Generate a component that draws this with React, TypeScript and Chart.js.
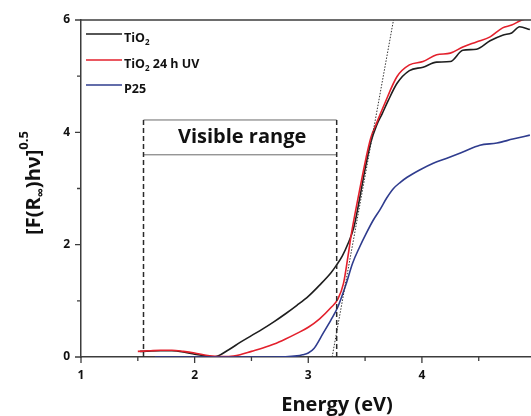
import { useEffect, useRef } from 'react';
import { Chart, registerables } from 'chart.js';

Chart.register(...registerables);

// ---- data ----
const tio2X = [1.52, 1.7, 1.8, 1.9, 2.0, 2.1, 2.17, 2.3, 2.4, 2.5, 2.6, 2.7, 2.8, 2.9, 3.0, 3.1, 3.2, 3.25, 3.3, 3.35, 3.4, 3.45, 3.5, 3.55, 3.6, 3.65, 3.7, 3.78, 3.89, 4.01, 4.13, 4.25, 4.36, 4.48, 4.6, 4.71, 4.79, 4.86, 4.95];
const tio2Y = [0.1, 0.11, 0.11, 0.09, 0.05, 0.02, 0.0, 0.13, 0.26, 0.38, 0.5, 0.63, 0.77, 0.92, 1.08, 1.28, 1.5, 1.64, 1.8, 2.02, 2.3, 2.8, 3.35, 3.82, 4.12, 4.33, 4.55, 4.87, 5.1, 5.16, 5.25, 5.26, 5.46, 5.48, 5.63, 5.73, 5.77, 5.88, 5.83];

const tio2UvX = [1.5, 1.6, 1.7, 1.8, 1.9, 2.0, 2.1, 2.2, 2.3, 2.4, 2.5, 2.6, 2.7, 2.8, 2.9, 3.0, 3.1, 3.2, 3.26, 3.31, 3.35, 3.38, 3.44, 3.51, 3.55, 3.6, 3.67, 3.78, 3.89, 4.01, 4.13, 4.25, 4.36, 4.48, 4.6, 4.71, 4.79, 4.88, 4.96];
const tio2UvY = [0.1, 0.11, 0.12, 0.12, 0.1, 0.07, 0.03, 0.01, 0.01, 0.04, 0.1, 0.16, 0.23, 0.32, 0.42, 0.53, 0.68, 0.88, 1.03, 1.31, 1.8, 2.2, 2.85, 3.56, 3.9, 4.16, 4.5, 4.99, 5.2, 5.26, 5.38, 5.41, 5.52, 5.61, 5.7, 5.86, 5.91, 6.0, 6.04];

const p25X = [1.65, 2.0, 2.5, 2.8, 2.9, 2.95, 3.0, 3.05, 3.13, 3.2, 3.26, 3.33, 3.39, 3.45, 3.51, 3.57, 3.63, 3.69, 3.75, 3.81, 3.87, 3.98, 4.1, 4.22, 4.36, 4.51, 4.66, 4.8, 4.95];
const p25Y = [0, 0, 0, 0.005, 0.02, 0.04, 0.07, 0.15, 0.42, 0.66, 0.89, 1.28, 1.67, 1.95, 2.2, 2.43, 2.62, 2.83, 3.0, 3.11, 3.2, 3.33, 3.45, 3.54, 3.65, 3.77, 3.81, 3.88, 3.95];

const tangentX = [3.21, 3.75];
const tangentY = [0, 6];

const xTicks = [1, 2, 3, 4];
const xMinorTicks = [1.5, 2.5, 3.5, 4.5];
const yTicks = [0, 2, 4, 6];
const yMinorTicks = [1, 3, 5];

const visibleRangeX = [1.55, 3.25];
const visibleBoxY = [3.6, 4.22];
const visibleLabel = 'Visible range';

const seriesNames = ['TiO', 'TiO', 'P25'];
const seriesSubs = ['2', '2', ''];
const seriesSuffix = ['', ' 24 h UV', ''];
const seriesColors = ['#1e1e1e', '#e3202c', '#2f3c8e'];

const xTitle = 'Energy (eV)';

const FONT = '"Open Sans", "DejaVu Sans", sans-serif';
const AXIS = '#3c3c3c';

const pts = (xs: number[], ys: number[]) => xs.map((x, i) => ({ x, y: ys[i] }));

const decorPlugin = {
  id: 'decor',
  afterDatasetsDraw(chart: any) {
    const { ctx, chartArea, scales } = chart;
    const xs = scales.x;
    const ys = scales.y;
    ctx.save();

    // visible range box
    const xl = xs.getPixelForValue(visibleRangeX[0]);
    const xr = xs.getPixelForValue(visibleRangeX[1]);
    const yTop = ys.getPixelForValue(visibleBoxY[1]);
    const yMid = ys.getPixelForValue(visibleBoxY[0]);
    const y0 = ys.getPixelForValue(0);
    ctx.strokeStyle = '#6a6a6a';
    ctx.lineWidth = 1;
    ctx.beginPath();
    ctx.moveTo(xl, yTop);
    ctx.lineTo(xr, yTop);
    ctx.moveTo(xl, yMid);
    ctx.lineTo(xr, yMid);
    ctx.stroke();
    ctx.strokeStyle = '#2a2a2a';
    ctx.lineWidth = 1.5;
    ctx.setLineDash([5, 3]);
    ctx.beginPath();
    ctx.moveTo(xl, yTop);
    ctx.lineTo(xl, y0);
    ctx.moveTo(xr, yTop);
    ctx.lineTo(xr, y0);
    ctx.stroke();
    ctx.setLineDash([]);
    ctx.fillStyle = '#111';
    ctx.font = `bold 20px ${FONT}`;
    ctx.textAlign = 'center';
    ctx.textBaseline = 'middle';
    ctx.fillText(visibleLabel, (xl + xr) / 2 + 2, (yTop + yMid) / 2);

    // legend
    const lx = chartArea.left + 5;
    const ly = [chartArea.top + 14, chartArea.top + 40, chartArea.top + 65];
    for (let i = 0; i < seriesNames.length; i++) {
      ctx.strokeStyle = seriesColors[i];
      ctx.lineWidth = 1.5;
      ctx.beginPath();
      ctx.moveTo(lx, ly[i]);
      ctx.lineTo(lx + 36, ly[i]);
      ctx.stroke();
      ctx.fillStyle = '#111';
      ctx.textAlign = 'left';
      ctx.textBaseline = 'alphabetic';
      ctx.font = `bold 12.5px ${FONT}`;
      let tx = lx + 38;
      const by = ly[i] + 7.5;
      ctx.fillText(seriesNames[i], tx, by);
      tx += ctx.measureText(seriesNames[i]).width;
      if (seriesSubs[i]) {
        ctx.font = `bold 8px ${FONT}`;
        ctx.fillText(seriesSubs[i], tx, by + 3.5);
        tx += ctx.measureText(seriesSubs[i]).width;
        ctx.font = `bold 12.5px ${FONT}`;
      }
      if (seriesSuffix[i]) ctx.fillText(seriesSuffix[i], tx, by);
    }
    ctx.restore();
  },
  afterDraw(chart: any) {
    const { ctx, chartArea, scales } = chart;
    const xs = scales.x;
    const ys = scales.y;
    ctx.save();
    ctx.strokeStyle = AXIS;
    ctx.lineWidth = 1.5;
    // top frame line
    ctx.beginPath();
    ctx.moveTo(chartArea.left, chartArea.top);
    ctx.lineTo(chartArea.right, chartArea.top);
    ctx.stroke();
    // ticks
    ctx.lineWidth = 1.3;
    ctx.beginPath();
    for (const v of xTicks) {
      const p = xs.getPixelForValue(v);
      ctx.moveTo(p, chartArea.bottom);
      ctx.lineTo(p, chartArea.bottom + 6);
    }
    for (const v of xMinorTicks) {
      const p = xs.getPixelForValue(v);
      ctx.moveTo(p, chartArea.bottom);
      ctx.lineTo(p, chartArea.bottom + 4);
    }
    for (const v of yTicks) {
      const p = ys.getPixelForValue(v);
      ctx.moveTo(chartArea.left, p);
      ctx.lineTo(chartArea.left - 6, p);
    }
    for (const v of yMinorTicks) {
      const p = ys.getPixelForValue(v);
      ctx.moveTo(chartArea.left, p);
      ctx.lineTo(chartArea.left - 4, p);
    }
    ctx.stroke();

    // x title
    ctx.fillStyle = '#111';
    ctx.font = `bold 20px ${FONT}`;
    ctx.textAlign = 'center';
    ctx.textBaseline = 'alphabetic';
    ctx.fillText(xTitle, 337, 411);

    // y title: [F(R∞)hν]^0.5
    ctx.translate(40, 183);
    ctx.rotate(-Math.PI / 2);
    const big = `bold 20px ${FONT}`;
    const small = `bold 13px ${FONT}`;
    const parts: [string, string, number][] = [
      ['[F(R', big, 0],
      ['\u221E', small, 5],
      [')h\u03BD]', big, 0],
      ['0.5', small, -12],
    ];
    let total = 0;
    for (const [t, f] of parts) {
      ctx.font = f;
      total += ctx.measureText(t).width;
    }
    let x = -total / 2;
    ctx.textAlign = 'left';
    for (const [t, f, dy] of parts) {
      ctx.font = f;
      ctx.fillText(t, x, dy);
      x += ctx.measureText(t).width;
    }
    ctx.restore();
  },
};

export default function App() {
  const ref = useRef<HTMLCanvasElement | null>(null);
  useEffect(() => {
    if (!ref.current) return;
    const lineDs = (label: string, data: any[], color: string) => ({
      label,
      data,
      borderColor: color,
      backgroundColor: color,
      borderWidth: 1.6,
      pointRadius: 0,
      showLine: true,
      cubicInterpolationMode: 'monotone' as const,
      fill: false,
    });
    const chart = new Chart(ref.current, {
      type: 'scatter',
      data: {
        datasets: [
          {
            label: 'tangent',
            data: pts(tangentX, tangentY),
            borderColor: '#333',
            borderWidth: 1,
            borderDash: [1.5, 1.5],
            pointRadius: 0,
            showLine: true,
          },
          lineDs('P25', pts(p25X, p25Y), seriesColors[2]),
          lineDs('TiO2 24 h UV', pts(tio2UvX, tio2UvY), seriesColors[1]),
          lineDs('TiO2', pts(tio2X, tio2Y), seriesColors[0]),
        ],
      },
      options: {
        animation: false,
        responsive: false,
        layout: { padding: { top: 20, left: 0, right: 0, bottom: 0 } },
        plugins: { legend: { display: false }, tooltip: { enabled: false } },
        scales: {
          x: {
            type: 'linear',
            min: 1,
            max: 4.96,
            grid: { display: false, drawTicks: false },
            border: { display: true, color: AXIS, width: 1.5 },
            ticks: { padding: 11, color: '#111', font: { family: FONT, size: 12, weight: 'bold' } },
            afterBuildTicks: (s: any) => {
              s.ticks = xTicks.map((v) => ({ value: v }));
            },
            afterFit: (s: any) => {
              s.height = 59;
            },
          },
          y: {
            type: 'linear',
            min: 0,
            max: 6,
            grid: { display: false, drawTicks: false },
            border: { display: true, color: AXIS, width: 1.5 },
            ticks: { padding: 11, color: '#111', font: { family: FONT, size: 12, weight: 'bold' } },
            afterBuildTicks: (s: any) => {
              s.ticks = yTicks.map((v) => ({ value: v }));
            },
            afterFit: (s: any) => {
              s.width = 81;
            },
          },
        },
      },
      plugins: [decorPlugin],
    });
    return () => chart.destroy();
  }, []);
  return (
    <div style={{ position: 'fixed', left: 0, top: 0, width: 531, height: 416, background: '#fff' }}>
      <canvas ref={ref} width={531} height={416} style={{ display: 'block' }} />
    </div>
  );
}
